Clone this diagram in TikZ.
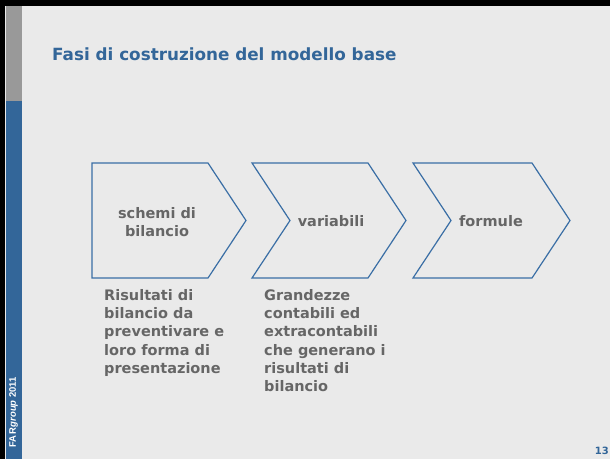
\documentclass[tikz,border=0pt]{standalone}
\usepackage{fontspec}
\setmainfont{DejaVu Sans}
\newfontfamily\arialfont{Liberation Sans}
\usetikzlibrary{positioning}

\definecolor{slidebg}{HTML}{EAEAEA}
\definecolor{farblue}{HTML}{336699}
\definecolor{bargray}{HTML}{999999}
\definecolor{chevblue}{HTML}{3A6EA5}
\definecolor{textgray}{HTML}{666666}

\tikzset{
  chev/.style={draw=chevblue, line width=1.2pt, line join=miter},
  steplabel/.style={font=\fontsize{14.5}{18}\selectfont\bfseries, text=textgray, align=center, inner sep=0pt},
  desc/.style={font=\fontsize{14.5}{18.3}\selectfont\bfseries, text=textgray, align=left, anchor=north west, inner sep=0pt},
}

\begin{document}
\begin{tikzpicture}[x=1pt, y=-1pt]
      %\draw[help lines] (0,0) grid (610,459);
      \useasboundingbox (0,0) rectangle (610,459);

      \fill[slidebg] (0,0) rectangle (610,459);
      \fill[black] (0,0) rectangle (610,6);
      \fill[black] (0,0) rectangle (5,459);
      \fill[bargray] (6,6) rectangle (22,101);
      \fill[farblue] (6,101) rectangle (22,459);

      \node[anchor=west, inner sep=0pt, text=farblue, font=\fontsize{16.8}{20}\selectfont\bfseries] (title) at (52,54) {Fasi di costruzione del modello base};

      % the three phases
      \draw[chev] (92,163)  -- ++(116,0) -- ++(38,57.5) -- ++(-38,57.5) -- ++(-116,0) -- cycle;
      \draw[chev] (252,163) -- ++(116,0) -- ++(38,57.5) -- ++(-38,57.5) -- ++(-116,0) -- ++(38,-57.5) -- cycle;
      \draw[chev] (413,163) -- ++(119,0) -- ++(38,57.5) -- ++(-38,57.5) -- ++(-119,0) -- ++(38,-57.5) -- cycle;

      \node[steplabel] (schemi) at (157,222) {schemi di\\bilancio};
      \node[steplabel] (variabili) at (331,221) {variabili};
      \node[steplabel] (formule) at (491,221) {formule};

      \node[desc] (risultati) at (104,289) {Risultati di\\bilancio da\\preventivare e\\loro forma di\\presentazione};
      \node[desc] (grandezze) at (264,289) {Grandezze\\contabili ed\\extracontabili\\che generano i\\risultati di\\bilancio};

      \node[rotate=90, anchor=west, inner sep=0pt, text=white, font=\arialfont\fontsize{9.5}{11}\selectfont\bfseries] (far) at (13.5,448) {FA\,R\textit{group} 2011};
      \node[anchor=east, inner sep=0pt, text=farblue, font=\fontsize{10}{11}\selectfont\bfseries] (pagenum) at (609,451) {13};
    \end{tikzpicture}
\end{document}
